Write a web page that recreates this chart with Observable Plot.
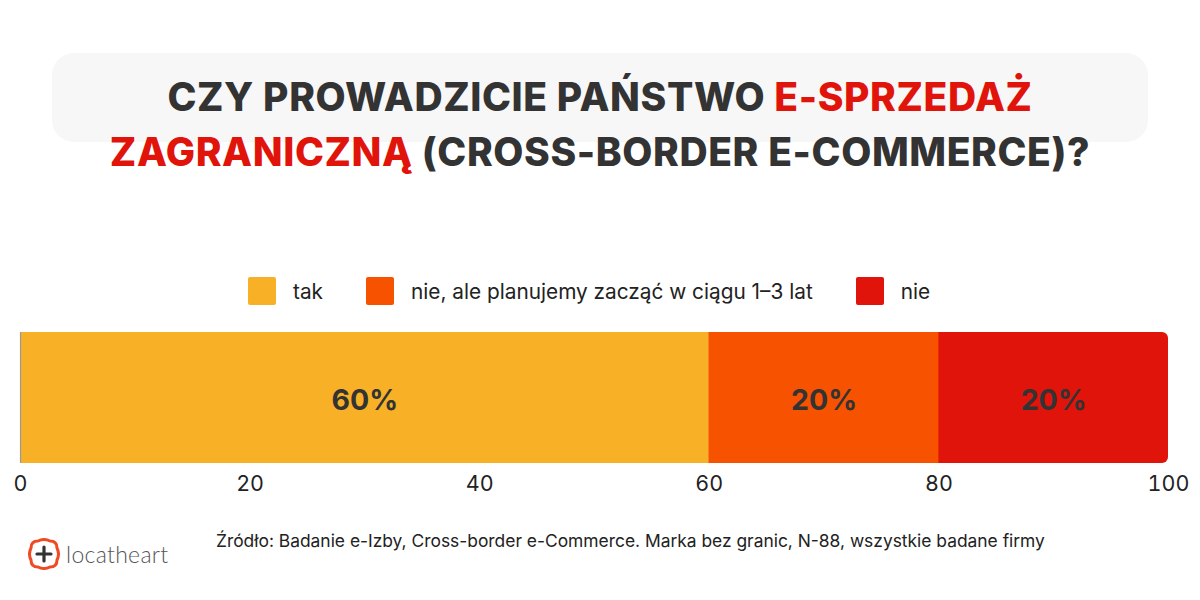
<!DOCTYPE html>
<html>
<head>
<meta charset="utf-8">
<script src="https://cdn.jsdelivr.net/npm/d3@7"></script>
<script src="https://cdn.jsdelivr.net/npm/@observablehq/plot@0.6"></script>
<style>
  html, body { margin: 0; padding: 0; background: #fff; }
  #root { position: relative; width: 1200px; height: 600px; overflow: hidden; font-family: Inter, "Noto Sans", sans-serif; }
  #titlebox { position: absolute; left: 52px; top: 53px; width: 1096px; height: 89px; background: #f7f7f7; border-radius: 22px; }
  #title { position: absolute; left: 0; top: 69px; width: 1200px; text-align: center; font-family: Inter, sans-serif; font-weight: 800; font-size: 39px; line-height: 55px; color: #333; letter-spacing: 0.6px; }
  #title .red { color: #e0140a; }
  #legend { position: absolute; left: 248px; top: 277px; display: flex; align-items: center; font-size: 20.8px; color: #222; }
  #legend .item { display: flex; align-items: center; margin-right: 43px; }
  #legend .sw { width: 28px; height: 28px; border-radius: 2px; margin-right: 17px; }
  #chart { position: absolute; left: 0; top: 320px; }
  #source { position: absolute; left: 216px; top: 530px; font-size: 17.4px; color: #222; }
  #logo { position: absolute; left: 28px; top: 538px; display: flex; align-items: center; }
  #logo span { font-family: Lato, sans-serif; font-weight: 300; font-size: 23px; color: #555; margin-left: 6px; letter-spacing: 0.3px; }
</style>
</head>
<body>
<div id="root">
  <div id="titlebox"></div>
  <div id="title">CZY PROWADZICIE PAŃSTWO <span class="red">E-SPRZEDAŻ</span><br><span class="red">ZAGRANICZNĄ</span> (CROSS-BORDER E-COMMERCE)?</div>
  <div id="legend"></div>
  <div id="chart"></div>
  <div id="source">Źródło: Badanie e-Izby, Cross-border e-Commerce. Marka bez granic, N-88, wszystkie badane firmy</div>
  <div id="logo">
    <svg width="32" height="32" viewBox="0 0 32 32">
      <path d="M10 3 Q16 0 22 3 Q29 3 29 10 Q32 16 29 22 Q29 29 22 29 Q16 32 10 29 Q3 29 3 22 Q0 16 3 10 Q3 3 10 3 Z" fill="none" stroke="#ef4a23" stroke-width="3"/>
      <path d="M16 9 V23 M9 16 H23" stroke="#333" stroke-width="3.2" stroke-linecap="round"/>
    </svg>
    <span>locatheart</span>
  </div>
</div>
<script>
const categories = ["tak", "nie, ale planujemy zacząć w ciągu 1-3 lat", "nie"];
const values = [60, 20, 20];
const colors = ["#f8b126", "#f75200", "#e0140a"];
const ticks = [0, 20, 40, 60, 80, 100];

const data = categories.map((c, i) => ({category: c, value: values[i]}));

// legend
const legend = document.getElementById("legend");
categories.forEach((c, i) => {
  const item = document.createElement("div");
  item.className = "item";
  item.innerHTML = `<div class="sw" style="background:${colors[i]}"></div><div>${c.replace("1-3", "1–3")}</div>`;
  legend.appendChild(item);
});

const total = d3.sum(values);
const chart = Plot.plot({
  width: 1200,
  height: 200,
  marginLeft: 20,
  marginRight: 32,
  marginTop: 12,
  marginBottom: 57,
  style: {fontFamily: "Inter, sans-serif", fontSize: "21.5px", color: "#222", background: "transparent"},
  x: {domain: [0, total], ticks: ticks, tickSize: 0, tickPadding: 12, label: null},
  color: {domain: categories, range: colors},
  marks: [
    // rounded backdrop for the right end of the bar (last category's colour)
    Plot.barX([{x1: 0, x2: total, category: categories[categories.length - 1]}], {x1: "x1", x2: "x2", fill: "category", rx: 6, inset: 0}),
    Plot.barX(data.slice(0, -1), Plot.stackX({x: "value", fill: "category", inset: 0, order: null})),
    Plot.text(data, Plot.stackX({x: "value", text: d => d.value + "%", fill: "#333", fontWeight: 700, fontSize: 28.5, dy: 3, order: null})),
    Plot.ruleX([0], {stroke: "#999", strokeWidth: 1.2})
  ]
});
document.getElementById("chart").appendChild(chart);
</script>
</body>
</html>
